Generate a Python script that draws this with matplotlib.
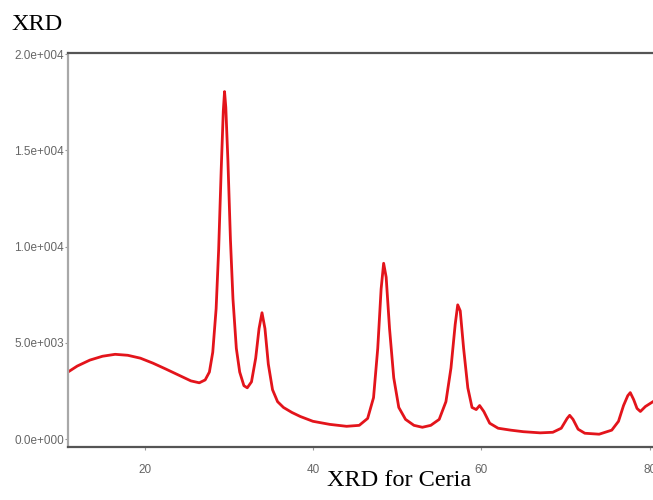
import matplotlib
matplotlib.use('Agg')
import matplotlib.pyplot as plt

# diffraction pattern, 2-theta (deg) vs counts
two_theta = [10.9, 12.0, 13.5, 15.0, 16.5, 18.0, 19.5, 21.0, 22.5, 24.0,
             25.5, 26.5, 27.2, 27.7, 28.1, 28.5, 28.8, 29.1, 29.35, 29.5,
             29.65, 29.9, 30.2, 30.5, 30.9, 31.3, 31.8, 32.2, 32.7, 33.2,
             33.6, 33.95, 34.3, 34.7, 35.2, 35.8, 36.5, 37.5, 38.5, 40.0,
             42.0, 44.0, 45.5, 46.5, 47.2, 47.7, 48.1, 48.4, 48.7, 49.1,
             49.6, 50.2, 51.0, 52.0, 53.0, 54.0, 55.0, 55.8, 56.4, 56.9,
             57.2, 57.5, 57.9, 58.4, 58.9, 59.4, 59.8, 60.3, 61.0, 62.0,
             63.5, 65.0, 67.0, 68.5, 69.5, 70.2, 70.5, 70.9, 71.5, 72.3,
             74.0, 75.5, 76.3, 76.9, 77.4, 77.7, 78.1, 78.5, 78.9, 79.5,
             80.4]
counts = [3480, 3790, 4100, 4300, 4400, 4350, 4200, 3940, 3640, 3330,
          3020, 2920, 3070, 3480, 4510, 6770, 9840, 13950, 17030, 18050,
          17230, 14460, 10360, 7280, 4710, 3480, 2770, 2660, 2970, 4200,
          5740, 6560, 5740, 3890, 2560, 1940, 1640, 1380, 1170, 920,
          760, 660, 710, 1070, 2150, 4710, 7790, 9130, 8410, 5740,
          3180, 1640, 1020, 710, 610, 710, 1020, 1940, 3690, 5950,
          6970, 6660, 4710, 2660, 1640, 1530, 1740, 1430, 820, 560,
          460, 380, 320, 350, 560, 1070, 1230, 1020, 510, 300,
          250, 460, 920, 1740, 2250, 2410, 2050, 1590, 1430, 1690,
          1940]

x_ticks = [20, 40, 60, 80]
y_ticks = [0, 5000, 10000, 15000, 20000]
y_tick_labels = ['0.0e+000', '5.0e+003', '1.0e+004', '1.5e+004', '2.0e+004']

fig = plt.figure(figsize=(6.53, 5.0), dpi=100)
fig.patch.set_facecolor('white')
ax = fig.add_axes([0.1041, 0.106, 0.8959, 0.7886])

ax.plot(two_theta, counts, color='#e3141b', lw=2.0, solid_joinstyle='round')

ax.set_xlim(10.9, 80.4)
ax.set_ylim(-415, 20070)
ax.set_xticks(x_ticks)
ax.set_xticklabels([str(t) for t in x_ticks])
ax.set_yticks(y_ticks)
ax.set_yticklabels(y_tick_labels)

for lbl in ax.get_xticklabels() + ax.get_yticklabels():
    lbl.set_family('Liberation Sans')
    lbl.set_fontsize(8.5)
    lbl.set_color('#666666')
ax.tick_params(axis='x', length=2, width=0.8, color='#999999', pad=10)
ax.tick_params(axis='y', length=2, width=0.8, color='#999999', pad=1)

ax.spines['right'].set_visible(False)
ax.spines['left'].set_color('#a8a8a8')
ax.spines['left'].set_linewidth(1.6)
for s in ('top', 'bottom'):
    ax.spines[s].set_color('#555555')
    ax.spines[s].set_linewidth(1.6)

fig.text(0.018, 0.95, 'XRD', family='Liberation Serif', fontsize=17.5,
         ha='left', va='center')
fig.text(0.611, 0.04, 'XRD for Ceria', family='Liberation Serif', fontsize=17.5,
         ha='center', va='center')

fig.savefig('out.png', dpi=100)
